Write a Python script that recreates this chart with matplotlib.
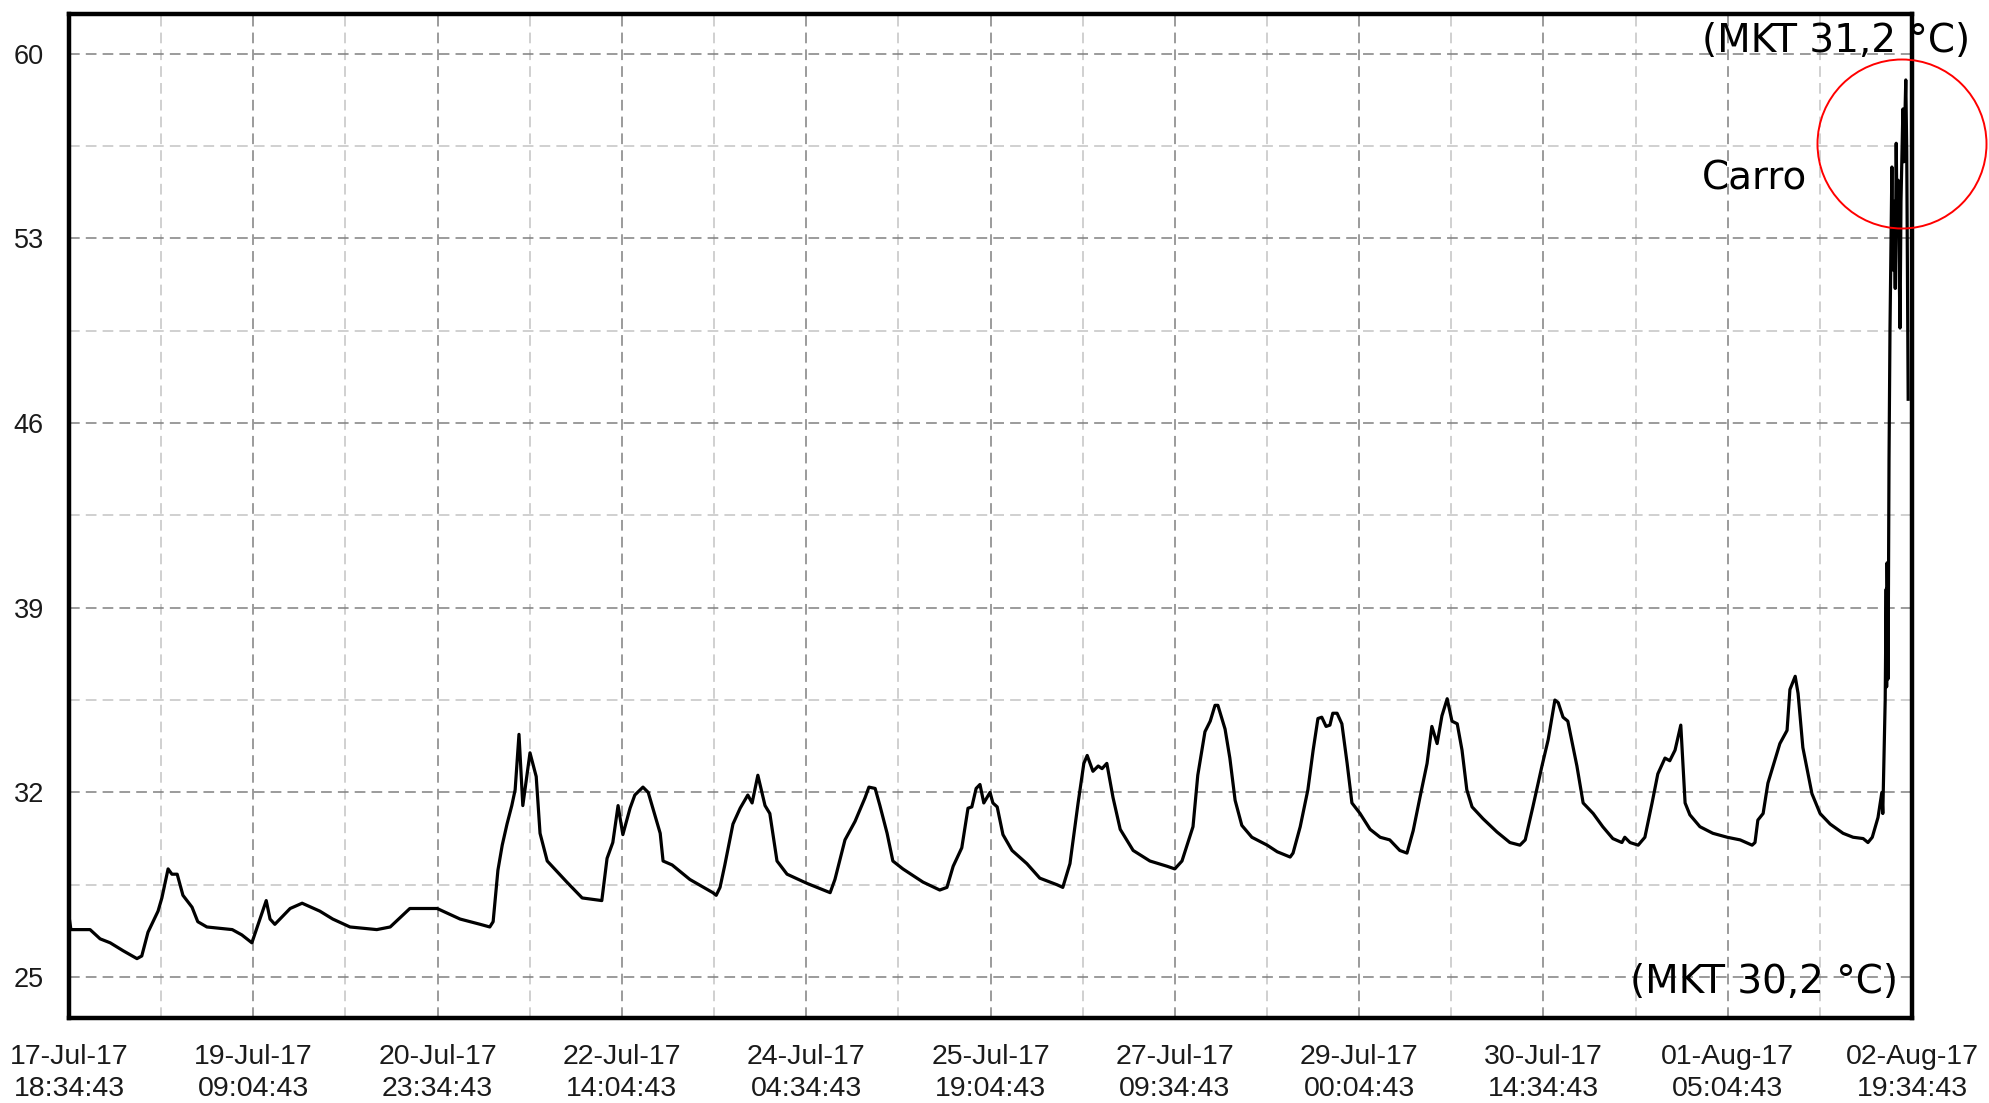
import matplotlib.pyplot as plt
from matplotlib.patches import Circle

# elapsed hours since 17-Jul-17 18:34:43 and temperature (°C)
hours = [0.0, 0.4, 4.4, 6.5, 8.6, 11.3, 14.2, 15.2, 16.5, 18.6, 19.4, 20.7, 21.5, 22.6,
         23.8, 25.7, 26.9, 28.8, 34.1, 36.1, 38.2, 39.9, 41.2, 42.0, 43.0, 46.2, 48.7,
         52.4, 55.1, 58.7, 64.3, 67.1, 71.2, 76.9, 81.7, 85.9, 87.9, 88.6, 89.6, 90.5,
         91.5, 92.5, 93.2, 94.0, 94.8, 96.3, 97.6, 98.4, 99.9, 104.0, 107.2, 111.3,
         112.4, 113.6, 114.7, 115.7, 117.2, 118.2, 119.9, 121.0, 123.5, 124.1, 126.0,
         129.7, 134.5, 135.2, 136.0, 137.0, 138.7, 140.2, 141.8, 142.7, 143.9, 145.4,
         146.4, 147.9, 150.0, 154.2, 159.0, 160.0, 162.1, 164.2, 166.3, 167.1, 168.4,
         169.4, 170.9, 172.1, 174.2, 178.4, 181.9, 183.4, 184.7, 186.5, 187.8, 188.6,
         189.5, 190.3, 191.1, 192.4, 193.0, 193.9, 195.1, 197.0, 200.1, 202.8, 206.4,
         207.6, 209.1, 210.8, 212.0, 212.7, 213.9, 215.0, 215.8, 216.8, 218.1, 219.6,
         222.3, 225.8, 229.4, 231.0, 232.5, 234.8, 235.8, 237.3, 238.4, 239.4, 240.0,
         241.5, 242.5, 243.6, 245.0, 247.1, 250.3, 252.4, 255.1, 255.7, 257.2, 258.8,
         259.9, 260.9, 261.7, 262.6, 263.4, 264.0, 264.9, 265.9, 267.0, 268.0, 269.7,
         271.8, 273.9, 275.9, 278.0, 279.5, 280.8, 282.2, 283.7, 284.7, 285.8, 286.8,
         287.9, 288.9, 290.0, 291.0, 292.0, 293.1, 295.4, 298.3, 301.0, 303.1, 304.2,
         305.8, 307.7, 309.0, 310.4, 311.1, 312.1, 313.1, 315.0, 316.3, 318.4, 320.4,
         322.5, 324.4, 325.0, 326.1, 327.8, 329.2, 330.7, 331.9, 333.4, 334.4, 335.5,
         336.7, 337.6, 338.6, 340.7, 343.4, 346.4, 349.1, 351.6, 352.2, 352.8, 353.9,
         354.9, 357.4, 358.9, 359.5, 360.6, 361.2, 362.2, 364.1, 365.8, 367.9, 370.6,
         372.7, 374.8, 375.8, 376.7, 377.9, 378.7, 378.9,
         # car spike
         379.4, 379.6, 379.7, 379.8, 380.0, 380.2, 380.4, 380.6, 380.8, 381.0,
         381.3, 381.5, 381.7, 381.9, 382.1, 382.3, 382.5, 382.7, 383.1, 383.3,
         383.7, 383.9, 384.2]
temps = [27.3, 26.8, 26.8, 26.45, 26.3, 26.0, 25.7, 25.8, 26.7, 27.5, 28.0, 29.1, 28.9, 28.9,
         28.1, 27.65, 27.1, 26.9, 26.8, 26.6, 26.3, 27.2, 27.9, 27.2, 27.0, 27.6, 27.8,
         27.5, 27.2, 26.9, 26.8, 26.9, 27.6, 27.6, 27.2, 27.0, 26.9, 27.1, 29.05, 30.0,
         30.8, 31.5, 32.1, 34.2, 31.5, 33.5, 32.6, 30.45, 29.4, 28.6, 28.0, 27.9,
         29.5, 30.1, 31.5, 30.4, 31.4, 31.9, 32.2, 32.0, 30.45, 29.4, 29.25,
         28.7, 28.2, 28.1, 28.4, 29.25, 30.8, 31.4, 31.9, 31.6, 32.65, 31.5,
         31.2, 29.4, 28.9, 28.55, 28.2, 28.7, 30.2, 30.9, 31.8, 32.2, 32.15,
         31.5, 30.45, 29.4, 29.1, 28.6, 28.3, 28.4, 29.2, 29.9, 31.4, 31.45,
         32.15, 32.3, 31.6, 32.0, 31.6, 31.45, 30.4, 29.8, 29.3, 28.75, 28.5,
         28.4, 29.3, 31.6, 33.1, 33.4, 32.8, 33.0, 32.9, 33.1, 31.8, 30.6,
         29.8, 29.4, 29.2, 29.1, 29.4, 30.7, 32.65, 34.3, 34.7, 35.3, 35.3,
         34.4, 33.3, 31.7, 30.75, 30.3, 30.0, 29.75, 29.55, 29.7, 30.7, 32.1,
         33.6, 34.8, 34.85, 34.5, 34.55, 35.0, 35.0, 34.6, 33.1, 31.6, 31.2,
         30.6, 30.3, 30.2, 29.8, 29.7, 30.55, 31.8, 33.1, 34.5, 33.85, 34.9,
         35.55, 34.7, 34.6, 33.6, 32.1, 31.45, 31.0, 30.5, 30.1, 30.0, 30.2,
         31.45, 33.0, 34.0, 35.5, 35.4, 34.85, 34.7, 33.0, 31.6, 31.2, 30.7,
         30.25, 30.1, 30.3, 30.1, 30.0, 30.3, 31.6, 32.7, 33.3, 33.2, 33.6,
         34.55, 31.6, 31.15, 30.7, 30.45, 30.3, 30.2, 30.0, 30.1, 30.95, 31.2,
         32.35, 33.85, 34.35, 35.9, 36.4, 35.75, 33.7, 31.95, 31.2, 30.8, 30.45,
         30.3, 30.25, 30.1, 30.3, 31.05, 32.0, 31.2,
         # car spike
         35.5, 39.7, 36.0, 40.7, 36.3, 44.6, 49.5, 52.5, 55.7, 51.8,
         54.4, 51.1, 56.6, 53.3, 55.2, 52.1, 49.6, 54.4, 57.9, 55.9,
         59.0, 56.3, 46.9]

tick_hours = [0, 38.5, 77, 115.5, 154, 192.5, 231, 269.5, 308, 346.5, 385]
tick_labels = ["17-Jul-17\n18:34:43", "19-Jul-17\n09:04:43", "20-Jul-17\n23:34:43",
               "22-Jul-17\n14:04:43", "24-Jul-17\n04:34:43", "25-Jul-17\n19:04:43",
               "27-Jul-17\n09:34:43", "29-Jul-17\n00:04:43", "30-Jul-17\n14:34:43",
               "01-Aug-17\n05:04:43", "02-Aug-17\n19:34:43"]
minor_hours = [19.25, 57.75, 96.25, 134.75, 173.25, 211.75, 250.25, 288.75, 327.25, 365.75]
y_ticks = [25, 32, 39, 46, 53, 60]
y_minor = [28.5, 35.5, 42.5, 49.5, 56.5]

W, H = 1989, 1103
fig = plt.figure(figsize=(W / 100, H / 100), dpi=100)
ax = fig.add_axes([69 / W, 1 - 1018 / H, (1912 - 69) / W, (1018 - 14) / H])

ax.plot(hours, temps, color='black', lw=2.3, zorder=3)

ax.set_xlim(0, 385)
ax.set_ylim(23.45, 61.5)
ax.set_xticks(tick_hours)
ax.set_xticklabels(tick_labels, fontsize=20.5, family='Liberation Sans', color='#1a1a1a',
                   linespacing=1.3)
ax.set_xticks(minor_hours, minor=True)
ax.set_yticks(y_ticks)
ax.set_yticklabels([str(v) for v in y_ticks], fontsize=19.5, family='Liberation Sans',
                   color='#1a1a1a')
ax.set_yticks(y_minor, minor=True)
ax.tick_params(which='both', length=0)
ax.tick_params(axis='x', pad=19)
ax.tick_params(axis='y', pad=18)

ax.grid(which='major', color='#808080', ls=(0, (7, 4)), lw=1.1)
ax.grid(which='minor', color='#c4c4c4', ls=(0, (7, 4)), lw=1.1)
ax.set_axisbelow(True)

for s in ax.spines.values():
    s.set_linewidth(3.2)
    s.set_color('black')

# annotations
fig.text(1702 / W, 1 - 52 / H, "(MKT 31,2 °C)", fontsize=28, family='DejaVu Sans',
         ha='left', va='baseline')
fig.text(1702 / W, 1 - 190 / H, "Carro", fontsize=28, family='DejaVu Sans',
         ha='left', va='baseline')
fig.text(1630 / W, 1 - 993 / H, "(MKT 30,2 °C)", fontsize=28, family='DejaVu Sans',
         ha='left', va='baseline')

circ = Circle((1902 / 100, (H - 144) / 100), 0.845, transform=fig.dpi_scale_trans,
              fill=False, ec='red', lw=1.4)
fig.add_artist(circ)

fig.savefig("out.png", dpi=100)
